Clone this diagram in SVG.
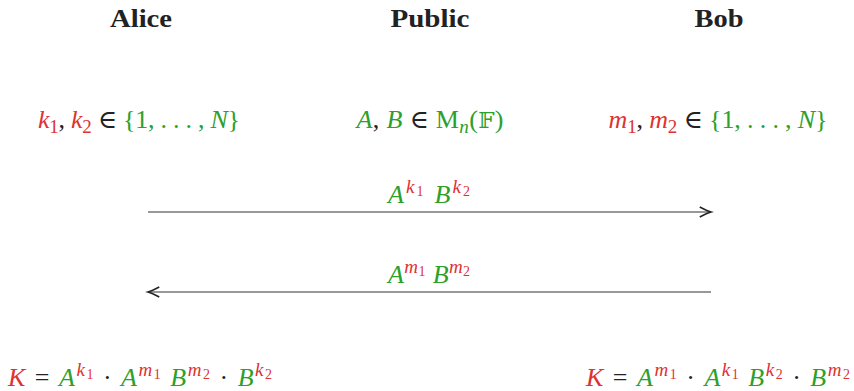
<svg xmlns="http://www.w3.org/2000/svg" width="854" height="391" viewBox="0 0 854 391">
<style>
text{font-family:"Liberation Serif","DejaVu Serif",serif;fill:#222}
.h{font-size:25px;font-weight:bold}
.m{font-size:26px}
.r{fill:#e03131}
.g{fill:#2ca02c}
.i{font-style:italic}
.s{font-size:19px}
.ss{font-size:14px}
.ln{stroke:#333;stroke-width:1.2;fill:none}
</style>
<defs>
<marker id="ah" markerUnits="userSpaceOnUse" markerWidth="20" markerHeight="20" refX="0" refY="0" viewBox="-12 -8 14 16" orient="auto">
<path d="M-9 -4 Q-3 -0.8 0 0 Q-3 0.8 -9 4" stroke="#222" stroke-width="1.2" fill="none"/>
</marker>
</defs>
<g id="alice-title"><text class="h" x="141" y="27" text-anchor="middle" textLength="62" lengthAdjust="spacingAndGlyphs">Alice</text></g>
<g id="public-title"><text class="h" x="430" y="27" text-anchor="middle" textLength="79" lengthAdjust="spacingAndGlyphs">Public</text></g>
<g id="bob-title"><text class="h" x="719" y="27" text-anchor="middle" textLength="49" lengthAdjust="spacingAndGlyphs">Bob</text></g>

<g id="alice-keys"><text class="m" x="139" y="128" text-anchor="middle" textLength="202"><tspan class="r i">k</tspan><tspan class="r s" dy="5">1</tspan><tspan dy="-5">, </tspan><tspan class="r i">k</tspan><tspan class="r s" dy="5">2</tspan><tspan dy="-5"> ∈ </tspan><tspan class="g">{1, . . . , </tspan><tspan class="g i">N</tspan><tspan class="g">}</tspan></text></g>

<g id="public-params"><text class="m" x="430" y="128" text-anchor="middle" textLength="147"><tspan class="g i">A</tspan><tspan>, </tspan><tspan class="g i">B</tspan><tspan> ∈ </tspan><tspan class="g">M</tspan><tspan class="g i s" dy="5">n</tspan><tspan class="g" dy="-5">(</tspan><tspan class="g" style="font-family:'DejaVu Serif','DejaVu Sans',serif;font-size:23px">𝔽</tspan><tspan class="g">)</tspan></text></g>

<g id="bob-keys"><text class="m" x="718" y="128" text-anchor="middle" textLength="219"><tspan class="r i">m</tspan><tspan class="r s" dy="5">1</tspan><tspan dy="-5">, </tspan><tspan class="r i">m</tspan><tspan class="r s" dy="5">2</tspan><tspan dy="-5"> ∈ </tspan><tspan class="g">{1, . . . , </tspan><tspan class="g i">N</tspan><tspan class="g">}</tspan></text></g>

<g id="connectors">
<line class="ln" x1="148" y1="212" x2="711" y2="212" marker-end="url(#ah)"/>
<line class="ln" x1="711" y1="292" x2="148" y2="292" marker-end="url(#ah)"/>
<text class="m" x="429" y="203" text-anchor="middle" textLength="82"><tspan class="g i">A</tspan><tspan class="r i s" dy="-10">k</tspan><tspan class="r ss" dy="3">1</tspan><tspan dy="7"> </tspan><tspan class="g i">B</tspan><tspan class="r i s" dy="-10">k</tspan><tspan class="r ss" dy="3">2</tspan></text>
<text class="m" x="429" y="283" text-anchor="middle" textLength="82"><tspan class="g i">A</tspan><tspan class="r i s" dy="-10">m</tspan><tspan class="r ss" dy="3">1</tspan><tspan dy="7"> </tspan><tspan class="g i">B</tspan><tspan class="r i s" dy="-10">m</tspan><tspan class="r ss" dy="3">2</tspan></text>
</g>

<g id="alice-key"><text class="m" x="140" y="386" text-anchor="middle" textLength="264"><tspan class="r i">K</tspan><tspan> = </tspan><tspan class="g i">A</tspan><tspan class="r i s" dy="-10">k</tspan><tspan class="r ss" dy="3">1</tspan><tspan dy="7"> · </tspan><tspan class="g i">A</tspan><tspan class="r i s" dy="-10">m</tspan><tspan class="r ss" dy="3">1</tspan><tspan dy="7"> </tspan><tspan class="g i">B</tspan><tspan class="r i s" dy="-10">m</tspan><tspan class="r ss" dy="3">2</tspan><tspan dy="7"> · </tspan><tspan class="g i">B</tspan><tspan class="r i s" dy="-10">k</tspan><tspan class="r ss" dy="3">2</tspan></text></g>

<g id="bob-key"><text class="m" x="718" y="386" text-anchor="middle" textLength="264"><tspan class="r i">K</tspan><tspan> = </tspan><tspan class="g i">A</tspan><tspan class="r i s" dy="-10">m</tspan><tspan class="r ss" dy="3">1</tspan><tspan dy="7"> · </tspan><tspan class="g i">A</tspan><tspan class="r i s" dy="-10">k</tspan><tspan class="r ss" dy="3">1</tspan><tspan dy="7"> </tspan><tspan class="g i">B</tspan><tspan class="r i s" dy="-10">k</tspan><tspan class="r ss" dy="3">2</tspan><tspan dy="7"> · </tspan><tspan class="g i">B</tspan><tspan class="r i s" dy="-10">m</tspan><tspan class="r ss" dy="3">2</tspan></text></g>
</svg>
